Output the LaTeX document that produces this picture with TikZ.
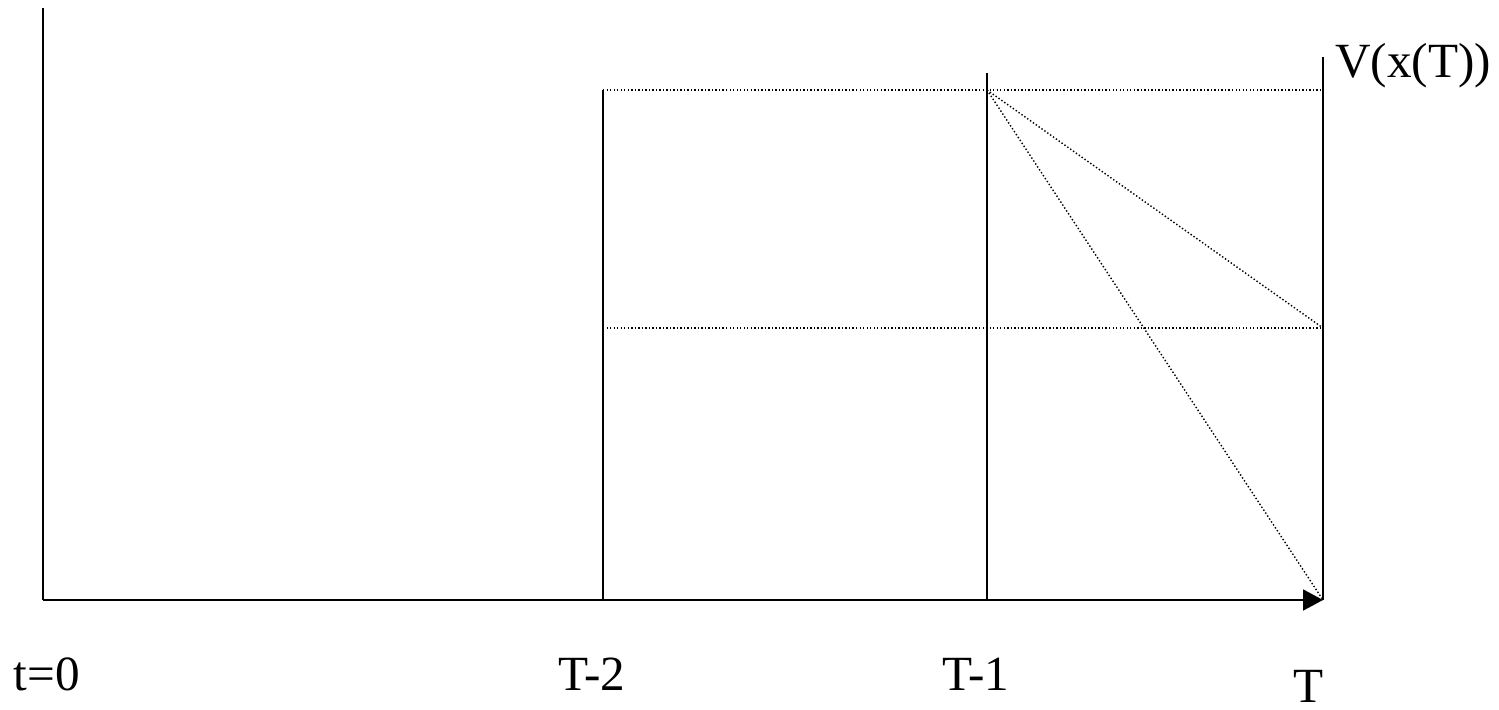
\documentclass[tikz,border=0pt]{standalone}
\usepackage{fontspec}
\setmainfont{Liberation Serif}
\usetikzlibrary{arrows.meta, positioning}

\tikzset{
  axisline/.style={line width=1.1pt},
  dotline/.style={line width=0.8pt, dash pattern=on 0.8pt off 1.2pt},
  ticklabel/.style={anchor=base, inner sep=0pt, font=\fontsize{28}{33}\selectfont}
}

\begin{document}
\begin{tikzpicture}[x=0.02cm, y=-0.02cm]
    \useasboundingbox (0,0) rectangle (1499,710);

    % Axis corners
    \coordinate (top) at (43,8);
    \coordinate (origin) at (43,600);
    \coordinate (end) at (1323,600);

    % Time points on the axis
    \coordinate (t2) at (603,600);
    \coordinate (t1) at (987,600);

    % Tops of the vertical lines
    \coordinate (t2top) at (603,90);
    \coordinate (t1top) at (987,73);
    \coordinate (endtop) at (1323,57);
    \coordinate (hi) at (987,90);
    \coordinate (endhi) at (1323,90);
    \coordinate (t2mid) at (603,328);
    \coordinate (endmid) at (1323,328);

    % Axes
    \draw[axisline] (top) -- (origin);
    \draw[axisline, -{Triangle[length=0.4cm, width=0.42cm]}] (origin) -- (end);

    % Stage lines
    \draw[axisline] (t2) -- (t2top);
    \draw[axisline] (t1) -- (t1top);
    \draw[axisline] (end) -- (endtop);

    % Value levels
    \draw[dotline] (t2top) -- (endhi);
    \draw[dotline] (t2mid) -- (endmid);
    \draw[dotline] (hi) -- (endmid);
    \draw[dotline] (hi) -- (end);

    % Labels
    \node[ticklabel] (lab0) at (47,690) {t=0};
    \node[ticklabel] (lab2) at (592,690) {T-2};
    \node[ticklabel] (lab1) at (976,690) {T-1};
    \node[ticklabel] (labT) at (1309,702) {T};
    \node[ticklabel] (labV) at (1413,77) {V(x(T))};
  \end{tikzpicture}
\end{document}
